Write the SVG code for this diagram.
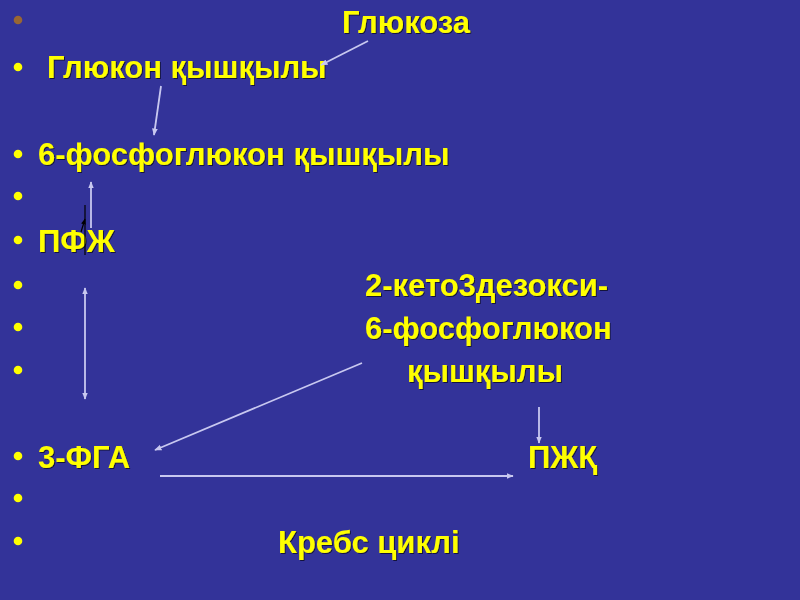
<svg xmlns="http://www.w3.org/2000/svg" width="800" height="600" viewBox="0 0 800 600">
<defs>
<style>
.t{font-family:"Liberation Sans",Arial,sans-serif;font-weight:bold;font-size:31px;fill:#ffff00;filter:url(#sh)}
.b{fill:#ffff00}
.c{stroke:#c8c8f0;stroke-width:1.8;fill:none}
</style>
<filter id="sh" x="-5%" y="-20%" width="110%" height="140%"><feDropShadow dx="1" dy="1" stdDeviation="0.6" flood-color="#000" flood-opacity="0.6"/></filter>
<marker id="ah" viewBox="0 0 10 10" refX="9" refY="5" markerWidth="4" markerHeight="4" orient="auto-start-reverse"><path d="M0,1 L10,5 L0,9 z" fill="#c8c8f0"/></marker>
<marker id="ak" viewBox="0 0 10 10" refX="9" refY="5" markerWidth="5" markerHeight="5" orient="auto"><path d="M0,1 L10,5 L0,9 z" fill="#000"/></marker>
</defs>
<rect width="800" height="600" fill="#333399"/>
<g id="bullets">
<circle cx="18" cy="20" r="4.3" fill="#996633"/>
<circle class="b" cx="18" cy="67" r="4.3"/>
<circle class="b" cx="18" cy="154" r="4.3"/>
<circle class="b" cx="18" cy="196" r="4.3"/>
<circle class="b" cx="18" cy="240" r="4.3"/>
<circle class="b" cx="18" cy="285" r="4.3"/>
<circle class="b" cx="18" cy="327" r="4.3"/>
<circle class="b" cx="18" cy="370" r="4.3"/>
<circle class="b" cx="18" cy="456" r="4.3"/>
<circle class="b" cx="18" cy="498" r="4.3"/>
<circle class="b" cx="18" cy="541" r="4.3"/>
</g>
<g id="glukoza"><text class="t" x="342" y="33">Глюкоза</text></g>
<g id="glukon"><text class="t" x="47" y="78">Глюкон қышқылы</text></g>
<g id="fosfoglukon"><text class="t" x="38" y="165">6-фосфоглюкон қышқылы</text></g>
<g id="pfzh"><text class="t" x="38" y="252">ПФЖ</text></g>
<g id="keto"><text class="t" x="365" y="296">2-кето3дезокси-</text><text class="t" x="365" y="339">6-фосфоглюкон</text><text class="t" x="407" y="382">қышқылы</text></g>
<g id="fga"><text class="t" x="38" y="468">3-ФГА</text></g>
<g id="pzhk"><text class="t" x="528" y="468">ПЖҚ</text></g>
<g id="krebs"><text class="t" x="278" y="553">Кребс циклі</text></g>
<g id="connectors">
<line class="c" x1="368" y1="41" x2="321" y2="65" marker-end="url(#ah)"/>
<line class="c" x1="161" y1="86" x2="154" y2="135" marker-end="url(#ah)"/>
<line class="c" x1="91" y1="228" x2="91" y2="182" marker-end="url(#ah)" stroke-width="2.4"/>
<line x1="85" y1="205" x2="85" y2="255" stroke="#000" stroke-width="1.2"/>
<line x1="81" y1="232" x2="85" y2="219" stroke="#000" stroke-width="1.2" marker-end="url(#ak)"/>
<line class="c" x1="85" y1="288" x2="85" y2="399" marker-start="url(#ah)" marker-end="url(#ah)" stroke-width="2.4"/>
<line class="c" x1="362" y1="363" x2="155" y2="450" marker-end="url(#ah)"/>
<line class="c" x1="539" y1="407" x2="539" y2="443" marker-end="url(#ah)"/>
<line class="c" x1="160" y1="476" x2="513" y2="476" marker-end="url(#ah)"/>
</g>
</svg>
